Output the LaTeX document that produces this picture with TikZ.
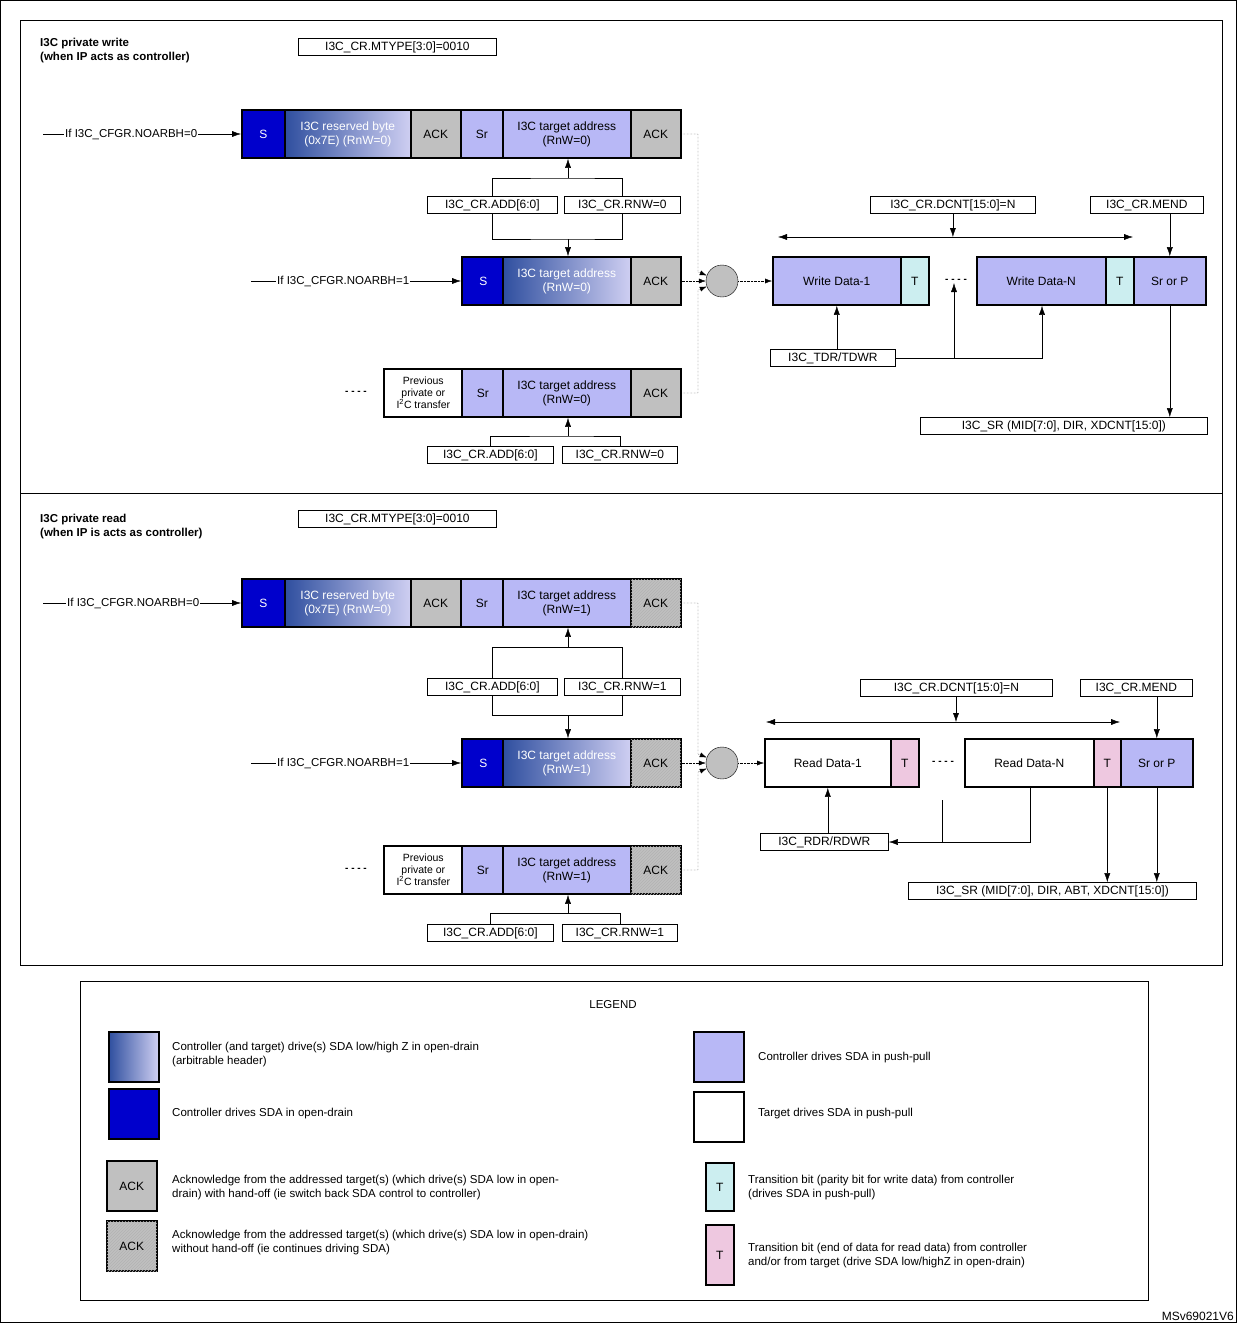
\documentclass[tikz,border=0pt]{standalone}
\usepackage{fontspec}
\setmainfont{Liberation Sans}
\usetikzlibrary{arrows.meta,patterns}
\definecolor{sblue}{HTML}{0000CC}
\definecolor{gblue}{HTML}{2F4F9F}
\definecolor{glight}{HTML}{CFCFF2}
\definecolor{lav}{HTML}{B8B8F6}
\definecolor{ackgray}{HTML}{C0C0C0}
\definecolor{tcyan}{HTML}{CCEEF0}
\definecolor{tpink}{HTML}{EEC8E0}
\tikzstyle{arr} = [-{Latex[length=9pt,width=6pt]}]
\tikzstyle{darr} = [{Latex[length=9pt,width=6pt]}-{Latex[length=9pt,width=6pt]}]
\tikzstyle{dots} = [densely dotted, -{Latex[length=7pt,width=5pt]}]
\tikzstyle{cell} = [draw, line width=1.6pt, anchor=west, minimum height=48pt, inner sep=0pt, align=center, font=\fontsize{12}{14}\selectfont]
\tikzstyle{sc} = [cell, fill=sblue, text=white, minimum width=43pt]
\tikzstyle{grad} = [cell, left color=gblue, right color=glight, text=white]
\tikzstyle{lc} = [cell, fill=lav]
\tikzstyle{ack} = [cell, fill=ackgray, minimum width=50pt]
\tikzstyle{hack} = [ack, postaction={pattern=north east lines, pattern color=gray!60}]
\tikzstyle{lbl} = [draw, line width=0.8pt, fill=white, anchor=west, minimum height=17pt, inner sep=1pt, font=\fontsize{12}{14}\selectfont]
\tikzstyle{txt} = [anchor=west, align=left, inner sep=0pt, font=\fontsize{11.5}{14}\selectfont]

\begin{document}
\begin{tikzpicture}[x=1pt,y=-1pt]
\useasboundingbox (0,0) rectangle (1237,1323);
\draw[line width=0.8pt] (0.5,0.5) rectangle (1236.5,1322.5);
\draw[line width=0.8pt] (20,20) rectangle (1222,965) (20,493) -- (1222,493);

%% private write
\node[txt, font=\bfseries\fontsize{11.5}{14}\selectfont] (wtitle) at (40,51) {I3C private write\\(when IP acts as controller)};
\node[lbl, minimum width=198pt] (wtype) at (298,47) {I3C\_CR.MTYPE[3:0]=0010};

\node[sc] (w1s) at (241,134) {S};
\node[grad, minimum width=126pt] (w1rb) at (284,134) {I3C reserved byte\\(0x7E) (RnW=0)};
\node[ack] (w1a) at (410,134) {ACK};
\node[lc, minimum width=42pt] (w1sr) at (460,134) {Sr};
\node[lc, minimum width=128pt] (w1ta) at (502,134) {I3C target address\\(RnW=0)};
\node[ack] (w1b) at (630,134) {ACK};
\node[txt] (w1if) at (42,134) {};
\node[txt, fill=white, font=\fontsize{11.5}{14}\selectfont, inner sep=1pt] (w1t) at (64,134) {If I3C\_CFGR.NOARBH=0};

\node[sc] (w2s) at (461,281) {S};
\node[grad, minimum width=128pt] (w2ta) at (502,281) {I3C target address\\(RnW=0)};
\node[ack] (w2a) at (630,281) {ACK};
\node[txt] (w2if) at (250,281) {};
\node[txt, fill=white, inner sep=1pt] (w2t) at (276,281) {If I3C\_CFGR.NOARBH=1};

\node[cell, fill=white, minimum width=79pt, font=\fontsize{10.5}{12}\selectfont] (w3p) at (383,393) {Previous\\private or\\I\textsuperscript{2}C transfer};
\node[lc, minimum width=42pt] (w3sr) at (461,393) {Sr};
\node[lc, minimum width=128pt] (w3ta) at (502,393) {I3C target address\\(RnW=0)};
\node[ack] (w3a) at (630,393) {ACK};
\node[font=\bfseries] (w3d) at (356,393) {- - - -};

\draw (w1if) -- (w1t); \draw[arr] (w1t) -- (w1s);
\draw (w2if) -- (w2t); \draw[arr] (w2t) -- (w2s);

\node[lbl, minimum width=130pt] (wadd1) at (427,205) {\hfill I3C\_CR.ADD[6:0]\hfill};
\node[lbl, minimum width=116pt] (wrnw1) at (564,205) {I3C\_CR.RNW=0};
\coordinate (wj1) at (568,178);
\coordinate (wj2) at (568,239);
\draw (wadd1.north) |- (wj1) -| (wrnw1.north);
\draw (wadd1.south) |- (wj2) -| (wrnw1.south);
\draw[arr] (wj1) -- (wj1 |- w1ta.south);
\draw[arr] (wj2) -- (wj2 |- w2ta.north);

\node[lbl, minimum width=126pt] (wadd2) at (427,455) {I3C\_CR.ADD[6:0]};
\node[lbl, minimum width=115pt] (wrnw2) at (562,455) {I3C\_CR.RNW=0};
\coordinate (wj3) at (568,436);
\draw (wadd2.north) |- (wj3) -| (wrnw2.north);
\draw[arr] (wj3) -- (wj3 |- w3ta.south);

\node[circle, draw, fill=ackgray, minimum size=32pt, inner sep=0pt] (wc) at (722,281) {};
\draw[dots] (w1b.east) -| (698,272) -- (wc.160);
\draw[dots] (w2a.east) -- (wc.west);
\draw[dots] (w3a.east) -| (698,290) -- (wc.200);

\node[lc, minimum width=128pt] (wd1) at (772,281) {Write Data-1};
\node[cell, fill=tcyan, minimum width=28pt] (wt1) at (900,281) {T};
\node[font=\bfseries] (wdd) at (956,281) {- - - -};
\node[lc, minimum width=129pt] (wdn) at (976,281) {Write Data-N};
\node[cell, fill=tcyan, minimum width=28pt] (wtn) at (1105,281) {T};
\node[lc, minimum width=72pt] (wsp) at (1133,281) {Sr or P};
\draw[dots] (wc.east) -- (wd1.west);

\node[lbl, minimum width=165pt] (wcnt) at (870,205) {I3C\_CR.DCNT[15:0]=N};
\node[lbl, minimum width=113pt] (wmend) at (1090,205) {I3C\_CR.MEND};
\coordinate (wl) at (778,237);
\coordinate (wr) at (1133,237);
\draw[darr] (wl) -- (wr);
\draw[arr] (wcnt.south) -- (wcnt.south |- wl);
\draw[arr] (wmend.south -| wsp) -- (wsp.north);

\node[lbl, minimum width=125pt] (wtdr) at (770,358) {I3C\_TDR/TDWR};
\draw[arr] (wtdr.north -| wd1) -- (wd1.south);
\coordinate (wk) at (1042,358);
\draw[arr] (wtdr.east) -| (wk) -- (wk |- wdn.south);
\draw[arr] (954,358) -- (954,283);
\node[lbl, minimum width=287pt] (wsr) at (920,426) {I3C\_SR (MID[7:0], DIR, XDCNT[15:0])};
\draw[arr] (wsp.south) -- (wsp.south |- wsr.north);

%% private read
\node[txt, font=\bfseries\fontsize{11.5}{14}\selectfont] (rtitle) at (40,527) {I3C private read\\(when IP is acts as controller)};
\node[lbl, minimum width=198pt] (rtype) at (298,519) {I3C\_CR.MTYPE[3:0]=0010};

\node[sc] (r1s) at (241,603) {S};
\node[grad, minimum width=126pt] (r1rb) at (284,603) {I3C reserved byte\\(0x7E) (RnW=0)};
\node[ack] (r1a) at (410,603) {ACK};
\node[lc, minimum width=42pt] (r1sr) at (460,603) {Sr};
\node[lc, minimum width=128pt] (r1ta) at (502,603) {I3C target address\\(RnW=1)};
\node[hack] (r1b) at (630,603) {ACK};
\node[txt] (r1if) at (42,603) {};
\node[txt, fill=white, inner sep=1pt] (r1t) at (66,603) {If I3C\_CFGR.NOARBH=0};

\node[sc] (r2s) at (461,763) {S};
\node[grad, minimum width=128pt] (r2ta) at (502,763) {I3C target address\\(RnW=1)};
\node[hack] (r2a) at (630,763) {ACK};
\node[txt] (r2if) at (250,763) {};
\node[txt, fill=white, inner sep=1pt] (r2t) at (276,763) {If I3C\_CFGR.NOARBH=1};

\node[cell, fill=white, minimum width=79pt, font=\fontsize{10.5}{12}\selectfont] (r3p) at (383,870) {Previous\\private or\\I\textsuperscript{2}C transfer};
\node[lc, minimum width=42pt] (r3sr) at (461,870) {Sr};
\node[lc, minimum width=128pt] (r3ta) at (502,870) {I3C target address\\(RnW=1)};
\node[hack] (r3a) at (630,870) {ACK};
\node[font=\bfseries] (r3d) at (356,870) {- - - -};

\draw (r1if) -- (r1t); \draw[arr] (r1t) -- (r1s);
\draw (r2if) -- (r2t); \draw[arr] (r2t) -- (r2s);

\node[lbl, minimum width=130pt] (radd1) at (427,687) {I3C\_CR.ADD[6:0]};
\node[lbl, minimum width=116pt] (rrnw1) at (564,687) {I3C\_CR.RNW=1};
\coordinate (rj1) at (568,647);
\coordinate (rj2) at (568,715);
\draw (radd1.north) |- (rj1) -| (rrnw1.north);
\draw (radd1.south) |- (rj2) -| (rrnw1.south);
\draw[arr] (rj1) -- (rj1 |- r1ta.south);
\draw[arr] (rj2) -- (rj2 |- r2ta.north);

\node[lbl, minimum width=126pt] (radd2) at (427,933) {I3C\_CR.ADD[6:0]};
\node[lbl, minimum width=115pt] (rrnw2) at (562,933) {I3C\_CR.RNW=1};
\coordinate (rj3) at (568,913);
\draw (radd2.north) |- (rj3) -| (rrnw2.north);
\draw[arr] (rj3) -- (rj3 |- r3ta.south);

\node[circle, draw, fill=ackgray, minimum size=32pt, inner sep=0pt] (rc) at (722,763) {};
\draw[dots] (r1b.east) -| (698,754) -- (rc.160);
\draw[dots] (r2a.east) -- (rc.west);
\draw[dots] (r3a.east) -| (698,772) -- (rc.200);

\node[cell, fill=white, minimum width=126pt] (rd1) at (764,763) {Read Data-1};
\node[cell, fill=tpink, minimum width=28pt] (rt1) at (890,763) {T};
\node[font=\bfseries] (rdd) at (943,763) {- - - -};
\node[cell, fill=white, minimum width=129pt] (rdn) at (964,763) {Read Data-N};
\node[cell, fill=tpink, minimum width=27pt] (rtn) at (1093,763) {T};
\node[lc, minimum width=72pt] (rsp) at (1120,763) {Sr or P};
\draw[dots] (rc.east) -- (rd1.west);

\node[lbl, minimum width=192pt] (rcnt) at (860,688) {I3C\_CR.DCNT[15:0]=N};
\node[lbl, minimum width=112pt] (rmend) at (1080,688) {I3C\_CR.MEND};
\coordinate (rl) at (766,722);
\coordinate (rr) at (1120,722);
\draw[darr] (rl) -- (rr);
\draw[arr] (956,697) -- (956,722);
\draw[arr] (rmend.south -| rsp) -- (rsp.north);

\node[lbl, minimum width=128pt] (rrdr) at (760,842) {I3C\_RDR/RDWR};
\draw[arr] (rrdr.north -| rd1) -- (rd1.south);
\coordinate (rk) at (1030,787);
\draw[arr] (rk) |- (rrdr.east);
\draw (942,800) -- (942,842);
\node[lbl, minimum width=288pt] (rsr) at (908,891) {I3C\_SR (MID[7:0], DIR, ABT, XDCNT[15:0])};
\draw[arr] (rtn.south) -- (rtn.south |- rsr.north);
\draw[arr] (rsp.south) -- (rsp.south |- rsr.north);

%% legend
\draw[line width=0.8pt] (80,981) rectangle (1148,1300);
\node[font=\fontsize{11.5}{14}\selectfont] (leg) at (613,1005) {LEGEND};
\node[grad, minimum width=50pt, minimum height=50pt] (lg1) at (108,1057) {};
\node[txt] (lt1) at (172,1055) {Controller (and target) drive(s) SDA low/high Z in open-drain\\(arbitrable header)};
\node[sc, minimum width=50pt, minimum height=50pt] (lg2) at (108,1114) {};
\node[txt] (lt2) at (172,1114) {Controller drives SDA in open-drain};
\node[ack, minimum height=50pt] (lg3) at (106,1186) {ACK};
\node[txt] (lt3) at (172,1188) {Acknowledge from the addressed target(s) (which drive(s) SDA low in open-\\drain) with hand-off (ie switch back SDA control to controller)};
\node[hack, minimum height=50pt] (lg4) at (106,1246) {ACK};
\node[txt] (lt4) at (172,1243) {Acknowledge from the addressed target(s) (which drive(s) SDA low in open-drain)\\without hand-off (ie continues driving SDA)};
\node[lc, minimum width=50pt, minimum height=50pt] (lg5) at (693,1057) {};
\node[txt] (lt5) at (758,1058) {Controller drives SDA in push-pull};
\node[cell, fill=white, minimum width=50pt, minimum height=50pt] (lg6) at (693,1117) {};
\node[txt] (lt6) at (758,1114) {Target drives SDA in push-pull};
\node[cell, fill=tcyan, minimum width=28pt] (lg7) at (705,1187) {T};
\node[txt] (lt7) at (748,1188) {Transition bit (parity bit for write data) from controller\\(drives SDA in push-pull)};
\node[cell, fill=tpink, minimum width=28pt, minimum height=60pt] (lg8) at (705,1255) {T};
\node[txt] (lt8) at (748,1256) {Transition bit (end of data for read data) from controller\\and/or from target (drive SDA low/highZ in open-drain)};
\node[anchor=south east, inner sep=1pt, font=\fontsize{12}{14}\selectfont] (ref) at (1235,1322) {MSv69021V6};
\end{tikzpicture}
\end{document}
